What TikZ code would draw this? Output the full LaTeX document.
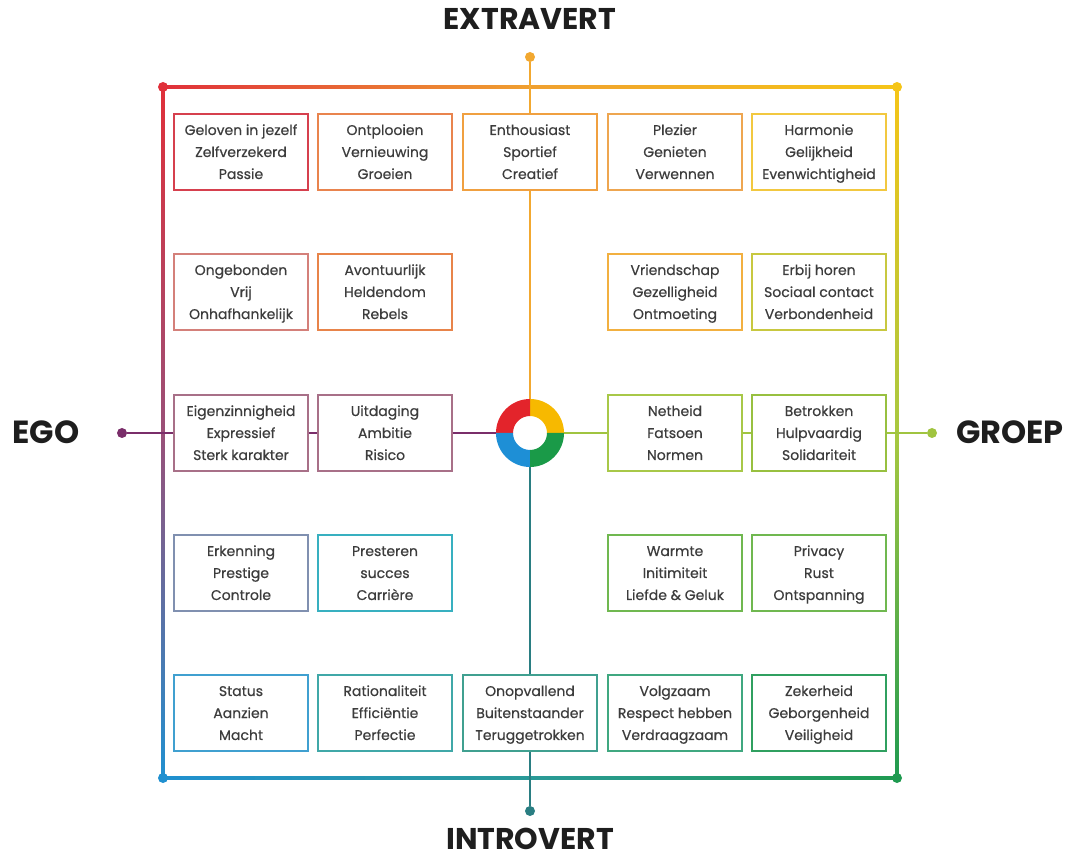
\documentclass[tikz,border=0pt]{standalone}
\usepackage{fontspec}
\setmainfont{Poppins}
\newfontfamily\boxfont{Poppins}[FakeBold=0.5]

% frame and axis colours
\definecolor{fRed}{HTML}{E0303A}
\definecolor{fOrange}{HTML}{F0A030}
\definecolor{fYellow}{HTML}{F5C518}
\definecolor{fLime}{HTML}{A8C840}
\definecolor{fGreen}{HTML}{1F9A50}
\definecolor{fPurple}{HTML}{9A5078}
\definecolor{fBlue}{HTML}{2090D0}
\definecolor{fTeal}{HTML}{2A9A98}
\definecolor{axTop}{HTML}{F2A830}
\definecolor{axLeft}{HTML}{7A2E6A}
\definecolor{axRight}{HTML}{A0C440}
\definecolor{axBot}{HTML}{2A7E82}
% ring
\definecolor{ringR}{HTML}{E3242B}
\definecolor{ringY}{HTML}{F7B900}
\definecolor{ringB}{HTML}{1E8FD6}
\definecolor{ringG}{HTML}{1A9A48}
% box colours
\definecolor{bA}{HTML}{D6404E}
\definecolor{bB}{HTML}{E9844E}
\definecolor{bC}{HTML}{F0A040}
\definecolor{bD}{HTML}{EEA650}
\definecolor{bE}{HTML}{F2C840}
\definecolor{bF}{HTML}{D4807A}
\definecolor{bG}{HTML}{E8844A}
\definecolor{bH}{HTML}{F2B040}
\definecolor{bI}{HTML}{C8C840}
\definecolor{bJ}{HTML}{A87088}
\definecolor{bK}{HTML}{A8C848}
\definecolor{bL}{HTML}{98C040}
\definecolor{bM}{HTML}{8090B0}
\definecolor{bN}{HTML}{38B0C0}
\definecolor{bO}{HTML}{70B850}
\definecolor{bP}{HTML}{40A0D0}
\definecolor{bQ}{HTML}{40A8A8}
\definecolor{bR}{HTML}{40A090}
\definecolor{bS}{HTML}{40A880}
\definecolor{bT}{HTML}{30A060}
\definecolor{txt}{HTML}{3C3C3C}
\definecolor{head}{HTML}{1E1E1E}

% three words stacked in a fixed 134x76 box
\newcommand{\trio}[3]{\parbox[c][76pt][t]{134pt}{\centering\rule{0pt}{21pt}#1\\#2\\#3}}

\tikzset{
  box/.style={draw=#1, line width=1.6pt, fill=white, minimum width=134pt,
    minimum height=76pt, inner sep=0pt, text=txt,
    font=\boxfont\fontsize{14}{22}\selectfont},
  axis/.style={draw=#1, line width=1.8pt},
  dot/.style={circle, fill=#1, inner sep=0pt, minimum size=10pt},
  head/.style={text=head, anchor=base, font=\fontsize{30}{32}\selectfont\bfseries}
}

\begin{document}
\begin{tikzpicture}[x=1pt,y=1pt]
            \useasboundingbox (0,0) rectangle (1083,859);

            % outer frame
            \shade[left color=fRed, right color=fOrange] (163,770.5) rectangle (530,773.5);
            \shade[left color=fOrange, right color=fYellow] (530,770.5) rectangle (897,773.5);
            \shade[left color=fBlue, right color=fTeal] (163,79.5) rectangle (530,82.5);
            \shade[left color=fTeal, right color=fGreen] (530,79.5) rectangle (897,82.5);
            \shade[top color=fRed, bottom color=fPurple] (161.5,772) rectangle (164.5,426);
            \shade[top color=fPurple, bottom color=fBlue] (161.5,426) rectangle (164.5,81);
            \shade[top color=fYellow, bottom color=fLime] (895.5,772) rectangle (898.5,426);
            \shade[top color=fLime, bottom color=fGreen] (895.5,426) rectangle (898.5,81);

            \node[dot=fRed] (tl) at (163,772) {};
            \node[dot=fYellow] (tr) at (897,772) {};
            \node[dot=fBlue] (bl) at (163,81) {};
            \node[dot=fGreen] (br) at (897,81) {};

            % axis ends
            \node[dot=axTop] (dotT) at (530,802) {};
            \node[dot=axBot] (dotB) at (530,48) {};
            \node[dot=axLeft] (dotL) at (122,426) {};
            \node[dot=axRight] (dotR) at (932,426) {};
            \node[head] (extra) at (530,829) {EXTRAVERT};
            \node[head] (intro) at (530,10) {INTROVERT};
            \node[head, font=\fontsize{32}{34}\selectfont\bfseries] (ego) at (46,415) {EGO};
            \node[head, font=\fontsize{32}{34}\selectfont\bfseries] (groep) at (1010,415) {GROEP};

            \node[circle, minimum size=68pt, inner sep=0pt] (ring) at (530,426) {};

            % row 1
            \node[box=bA] (r1c1) at (241,707) {\trio{Geloven in jezelf}{Zelfverzekerd}{Passie}};
            \node[box=bB] (r1c2) at (385,707) {\trio{Ontplooien}{Vernieuwing}{Groeien}};
            \node[box=bC] (r1c3) at (530,707) {\trio{Enthousiast}{Sportief}{Creatief}};
            \node[box=bD] (r1c4) at (675,707) {\trio{Plezier}{Genieten}{Verwennen}};
            \node[box=bE] (r1c5) at (819,707) {\trio{Harmonie}{Gelijkheid}{Evenwichtigheid}};
            % row 2
            \node[box=bF] (r2c1) at (241,567) {\trio{Ongebonden}{Vrij}{Onhafhankelijk}};
            \node[box=bG] (r2c2) at (385,567) {\trio{Avontuurlijk}{Heldendom}{Rebels}};
            \node[box=bH] (r2c4) at (675,567) {\trio{Vriendschap}{Gezelligheid}{Ontmoeting}};
            \node[box=bI] (r2c5) at (819,567) {\trio{Erbij horen}{Sociaal contact}{Verbondenheid}};
            % row 3
            \node[box=bJ] (r3c1) at (241,426) {\trio{Eigenzinnigheid}{Expressief}{Sterk karakter}};
            \node[box=bJ] (r3c2) at (385,426) {\trio{Uitdaging}{Ambitie}{Risico}};
            \node[box=bK] (r3c4) at (675,426) {\trio{Netheid}{Fatsoen}{Normen}};
            \node[box=bL] (r3c5) at (819,426) {\trio{Betrokken}{Hulpvaardig}{Solidariteit}};
            % row 4
            \node[box=bM] (r4c1) at (241,286) {\trio{Erkenning}{Prestige}{Controle}};
            \node[box=bN] (r4c2) at (385,286) {\trio{Presteren}{succes}{Carrière}};
            \node[box=bO] (r4c4) at (675,286) {\trio{Warmte}{Initimiteit}{Liefde \& Geluk}};
            \node[box=bO] (r4c5) at (819,286) {\trio{Privacy}{Rust}{Ontspanning}};
            % row 5
            \node[box=bP] (r5c1) at (241,146) {\trio{Status}{Aanzien}{Macht}};
            \node[box=bQ] (r5c2) at (385,146) {\trio{Rationaliteit}{Efficiëntie}{Perfectie}};
            \node[box=bR] (r5c3) at (530,146) {\trio{Onopvallend}{Buitenstaander}{Teruggetrokken}};
            \node[box=bS] (r5c4) at (675,146) {\trio{Volgzaam}{Respect hebben}{Verdraagzaam}};
            \node[box=bT] (r5c5) at (819,146) {\trio{Zekerheid}{Geborgenheid}{Veiligheid}};

            % axes between the boxes
            \draw[axis=axTop] (dotT) -- (r1c3) (r1c3) -- (ring);
            \draw[axis=axBot] (ring) -- (r5c3) (r5c3) -- (dotB);
            \draw[axis=axLeft] (dotL) -- (r3c1) (r3c1) -- (r3c2) (r3c2) -- (ring);
            \draw[axis=axRight] (ring) -- (r3c4) (r3c4) -- (r3c5) (r3c5) -- (dotR);

            % ring in four quarters
            \begin{scope}[shift={(530,426)}]
            \fill[ringY] (0:34) arc (0:90:34) -- (90:17) arc (90:0:17) -- cycle;
            \fill[ringR] (90:34) arc (90:180:34) -- (180:17) arc (180:90:17) -- cycle;
            \fill[ringB] (180:34) arc (180:270:34) -- (270:17) arc (270:180:17) -- cycle;
            \fill[ringG] (270:34) arc (270:360:34) -- (0:17) arc (360:270:17) -- cycle;
            \end{scope}
\end{tikzpicture}
\end{document}
